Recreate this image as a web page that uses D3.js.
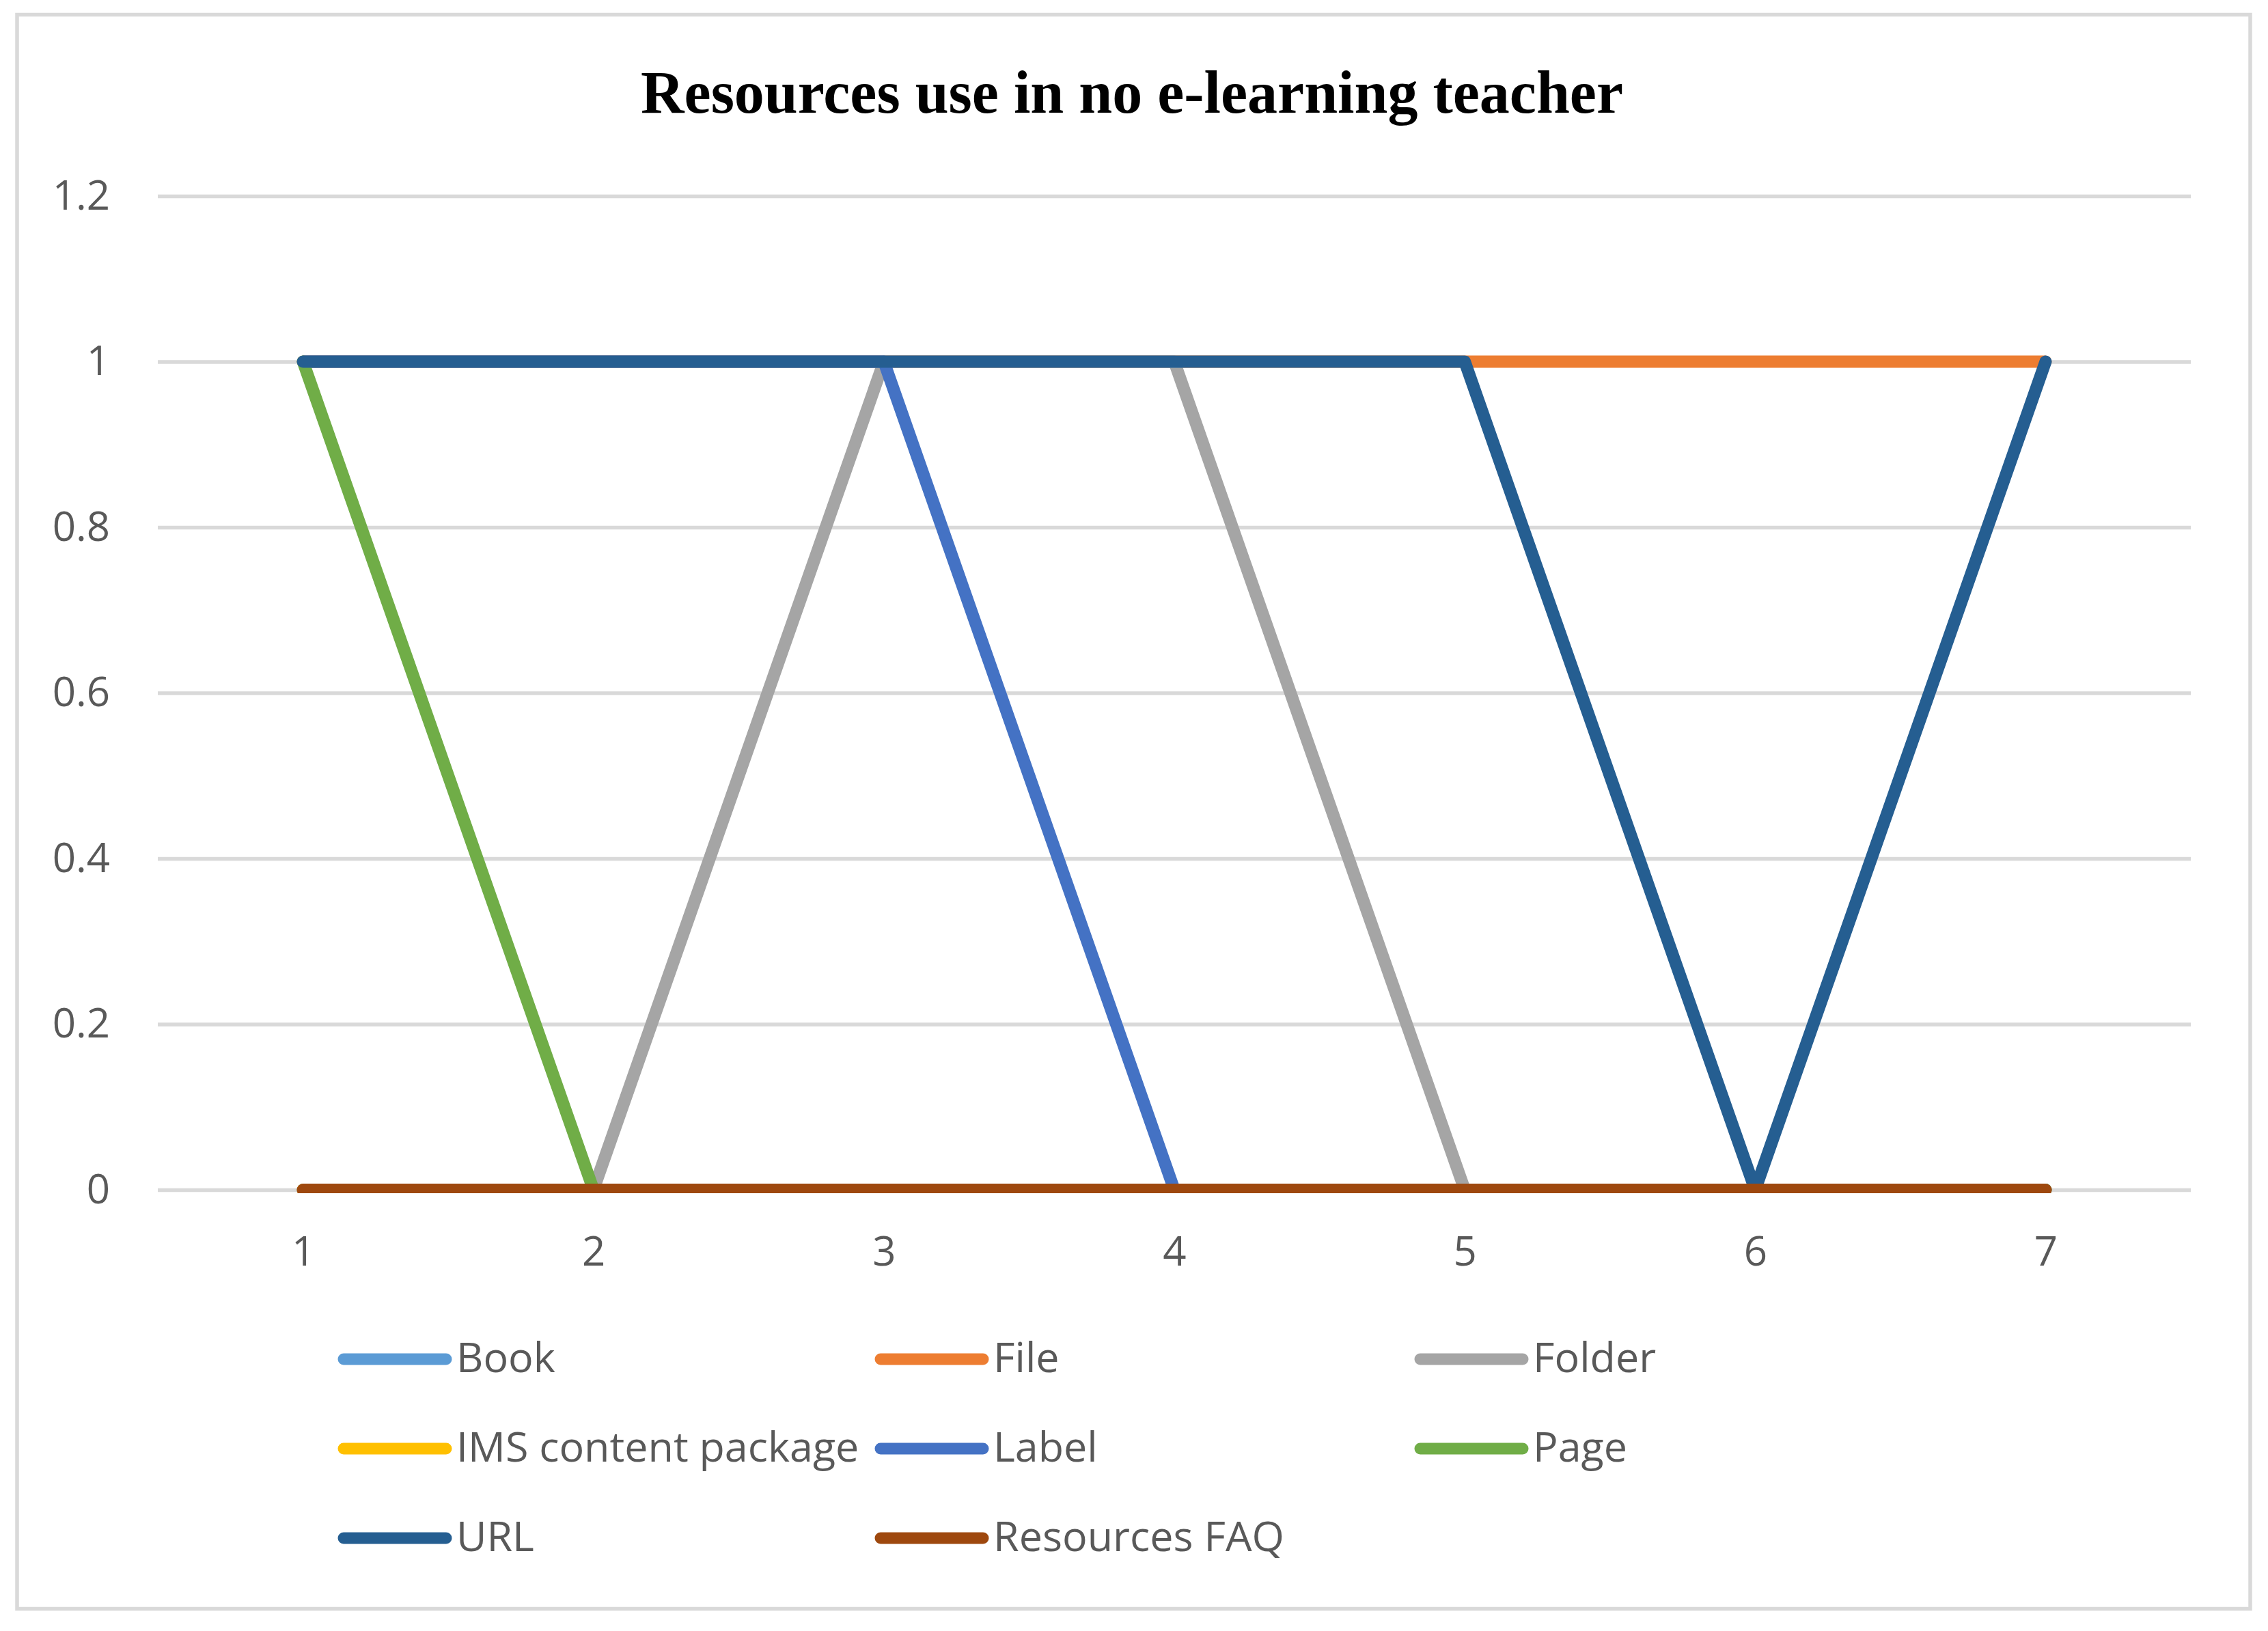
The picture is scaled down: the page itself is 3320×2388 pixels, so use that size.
<!DOCTYPE html>
<html>
<head>
<meta charset="utf-8">
<script src="https://cdn.jsdelivr.net/npm/d3@7"></script>
<style>
  html, body { margin: 0; padding: 0; background: #fff; }
  svg { display: block; }
</style>
</head>
<body>
<svg id="chart" width="3320" height="2388"></svg>
<script>
// ---- data ----
const categories = [1, 2, 3, 4, 5, 6, 7];
const seriesNames = ["Book", "File", "Folder", "IMS content package", "Label", "Page", "URL", "Resources FAQ"];
const bookValues   = [0, 0, 0, 0, 0, 0, 0];
const fileValues   = [1, 1, 1, 1, 1, 1, 1];
const folderValues = [0, 0, 1, 1, 0, 0, 0];
const imsValues    = [0, 0, 0, 0, 0, 0, 0];
const labelValues  = [1, 1, 1, 0, 0, 0, 0];
const pageValues   = [1, 0, 0, 0, 0, 0, 0];
const urlValues    = [1, 1, 1, 1, 1, 0, 1];
const faqValues    = [0, 0, 0, 0, 0, 0, 0];
const yTicks = [0, 0.2, 0.4, 0.6, 0.8, 1, 1.2];
const yTickLabels = ["0", "0.2", "0.4", "0.6", "0.8", "1", "1.2"];
const title = "Resources use in no e-learning teacher";

const colors = ["#5b9bd5", "#ed7d31", "#a5a5a5", "#ffc000", "#4472c4", "#70ad47", "#255e91", "#9e480e"];
const allValues = [bookValues, fileValues, folderValues, imsValues, labelValues, pageValues, urlValues, faqValues];
const series = seriesNames.map((name, i) => ({ name, color: colors[i], values: allValues[i] }));

// ---- layout ----
const svg = d3.select("#chart");
const plot = { left: 231, right: 3207, top: 287, bottom: 1742 };
const textColor = "#595959";
const gridColor = "#d9d9d9";
const tickFont = "'Open Sans', 'Noto Sans', sans-serif";

svg.append("rect").attr("width", 3320).attr("height", 2388).attr("fill", "#fff");
// outer border
svg.append("rect")
  .attr("x", 25).attr("y", 21.5)
  .attr("width", 3294 - 25).attr("height", 2355.5 - 21.5)
  .attr("fill", "none").attr("stroke", gridColor).attr("stroke-width", 5.5);

// title
svg.append("text")
  .attr("x", 1657).attr("y", 165)
  .attr("text-anchor", "middle")
  .attr("font-family", "'Liberation Serif', 'DejaVu Serif', serif")
  .attr("font-weight", "bold")
  .attr("font-size", 88)
  .attr("fill", "#000")
  .text(title);

const x = d3.scalePoint().domain(categories).range([plot.left, plot.right]).padding(0.5);
const y = d3.scaleLinear().domain([0, 1.2]).range([plot.bottom, plot.top]);

// gridlines
const yAxis = d3.axisLeft(y).tickValues(yTicks)
  .tickSize(-(plot.right - plot.left))
  .tickFormat((d, i) => yTickLabels[i]);
const gy = svg.append("g").attr("transform", `translate(${plot.left},0)`).call(yAxis);
gy.select(".domain").remove();
gy.selectAll(".tick line").attr("stroke", gridColor).attr("stroke-width", 5.5);
gy.selectAll(".tick text")
  .attr("x", 161 - plot.left)
  .attr("dy", null)
  .attr("y", 19)
  .attr("text-anchor", "end")
  .attr("font-family", tickFont)
  .attr("font-size", 60)
  .attr("fill", textColor);

// x axis labels
const xAxis = d3.axisBottom(x).tickSize(0).tickFormat(d => String(d));
const gx = svg.append("g").attr("transform", `translate(0,${plot.bottom})`).call(xAxis);
gx.select(".domain").remove();
gx.selectAll(".tick text")
  .attr("dy", null)
  .attr("y", 1853 - plot.bottom)
  .attr("font-family", tickFont)
  .attr("font-size", 60)
  .attr("fill", textColor);

// clip for plot area
svg.append("clipPath").attr("id", "plotclip")
  .append("rect")
  .attr("x", plot.left).attr("y", plot.top - 20)
  .attr("width", plot.right - plot.left).attr("height", plot.bottom + 5 - (plot.top - 20));

const line = d3.line().x((d, i) => x(categories[i])).y(d => y(d));
svg.append("g").attr("clip-path", "url(#plotclip)")
  .selectAll("path").data(series).join("path")
  .attr("d", s => line(s.values))
  .attr("fill", "none")
  .attr("stroke", s => s.color)
  .attr("stroke-width", 18)
  .attr("stroke-linecap", "round")
  .attr("stroke-linejoin", "round");

// legend
const legendCols = [495, 1281, 2071];
const legendRows = [1990, 2121, 2252];
const lg = svg.append("g");
series.forEach((s, i) => {
  const cx = legendCols[i % 3];
  const cy = legendRows[Math.floor(i / 3)];
  const g = lg.append("g").attr("transform", `translate(${cx},${cy})`);
  g.append("line")
    .attr("x1", 8).attr("x2", 158)
    .attr("y1", 0).attr("y2", 0)
    .attr("stroke", s.color).attr("stroke-width", 17)
    .attr("stroke-linecap", "round");
  g.append("text")
    .attr("x", 173).attr("y", 19)
    .attr("font-family", tickFont)
    .attr("font-size", 61)
    .attr("fill", textColor)
    .text(s.name);
});
</script>
</body>
</html>
